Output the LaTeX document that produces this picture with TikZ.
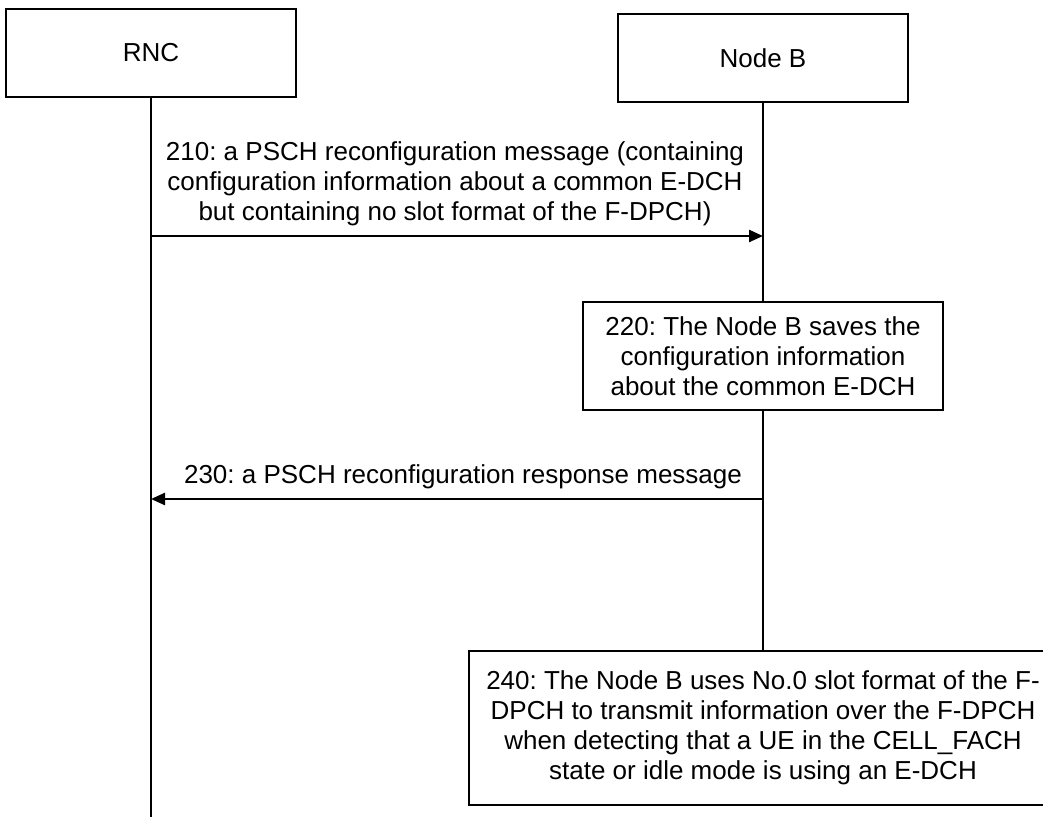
\documentclass[tikz,border=0pt]{standalone}
\usepackage{fontspec}
\setmainfont{Liberation Sans}
\usepackage{tikz}
\usetikzlibrary{arrows.meta}
\frenchspacing

\tikzset{
    entity/.style={draw, line width=0.75pt, minimum width=145pt, minimum height=44pt, inner sep=0pt},
    actbox/.style={draw, line width=0.75pt, align=center, inner sep=0pt},
    lifeline/.style={line width=0.75pt},
    msg/.style={line width=1.2pt, -{Triangle[length=7pt,width=6pt]}},
    msgtext/.style={align=center, anchor=south, inner sep=0pt}
}

\begin{document}
\begin{tikzpicture}[x=0.5pt, y=-0.5pt, font=\fontsize{13}{15}\selectfont]
        \useasboundingbox (0,0) rectangle (1043,817);
        \clip (0,0) rectangle (1043,817);

        % Entities
        \node[entity] (rnc) at (151,53) {RNC};
        \node[entity] (nodeb) at (763,58) {Node B};

        % Steps at the Node B
        \node[actbox, minimum width=180pt, minimum height=54pt] (s220) at (763,356)
            {220: The Node B saves the\\configuration information\\about the common E-DCH};
        \node[actbox, minimum width=294pt, minimum height=77pt] (s240) at (763,728)
            {240: The Node B uses No.0 slot format of the F-\\DPCH to transmit information over the F-DPCH\\when detecting that a UE in the CELL\_FACH\\state or idle mode is using an E-DCH};

        % Lifelines
        \coordinate (rncend) at (151,817);
        \draw[lifeline] (rnc.south) -- (rncend);
        \draw[lifeline] (nodeb.south) -- (s220.north);
        \draw[lifeline] (s220.south) -- (s240.north);

        % Messages
        \coordinate (m210s) at (151,236);
        \coordinate (m210e) at (763,236);
        \coordinate (m230s) at (763,499);
        \coordinate (m230e) at (151,499);
        \draw[msg] (m210s) -- (m210e);
        \draw[msg] (m230s) -- (m230e);
        \node[msgtext] (t210) at (455,226)
            {210: a PSCH reconfiguration message (containing\\configuration information about a common E-DCH\\but containing no slot format of the F-DPCH)};
        \node[msgtext] (t230) at (463,489) {230: a PSCH reconfiguration response message};
    \end{tikzpicture}
\end{document}
